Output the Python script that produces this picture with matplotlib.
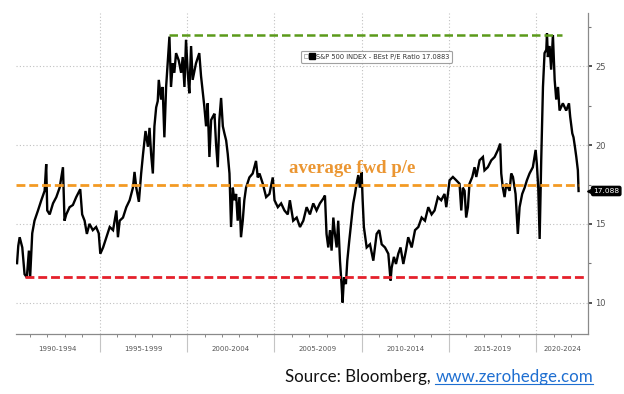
import matplotlib
matplotlib.use("Agg")
import matplotlib.pyplot as plt
import matplotlib.transforms as mtransforms
from matplotlib.lines import Line2D
from matplotlib.legend_handler import HandlerTuple

# S&P 500 blended forward P/E
years = [
    1990.26, 1990.33, 1990.41, 1990.56, 1990.69, 1990.82, 1990.94, 1991.01,
    1991.13, 1991.26, 1991.46, 1991.65, 1991.84, 1991.93, 1991.99, 1992.13,
    1992.32, 1992.51, 1992.70, 1992.89, 1992.98, 1993.08, 1993.27, 1993.46,
    1993.65, 1993.88, 1993.99, 1994.13, 1994.26, 1994.41, 1994.60, 1994.79,
    1994.94, 1995.03, 1995.19, 1995.38, 1995.57, 1995.76, 1995.95, 1996.04,
    1996.14, 1996.33, 1996.52, 1996.71, 1996.90, 1996.99, 1997.09, 1997.24,
    1997.37, 1997.48, 1997.62, 1997.76, 1997.85, 1997.94, 1998.04, 1998.13,
    1998.23, 1998.32, 1998.38, 1998.51, 1998.60, 1998.70, 1998.80, 1998.89,
    1998.99, 1999.08, 1999.18, 1999.27, 1999.37, 1999.52, 1999.66, 1999.75,
    1999.85, 1999.94, 2000.04, 2000.13, 2000.23, 2000.32, 2000.51, 2000.70,
    2000.80, 2000.89, 2000.99, 2001.09, 2001.18, 2001.28, 2001.38, 2001.47,
    2001.57, 2001.66, 2001.76, 2001.85, 2001.95, 2002.05, 2002.14, 2002.24,
    2002.33, 2002.43, 2002.52, 2002.62, 2002.71, 2002.81, 2002.90, 2003.00,
    2003.09, 2003.19, 2003.28, 2003.38, 2003.57, 2003.76, 2003.95, 2004.05,
    2004.15, 2004.34, 2004.53, 2004.72, 2004.91, 2005.01, 2005.20, 2005.39,
    2005.58, 2005.77, 2005.89, 2006.08, 2006.28, 2006.47, 2006.66, 2006.85,
    2007.04, 2007.23, 2007.42, 2007.61, 2007.80, 2007.90, 2007.99, 2008.09,
    2008.19, 2008.28, 2008.38, 2008.47, 2008.57, 2008.66, 2008.76, 2008.85,
    2008.91, 2008.99, 2009.10, 2009.18, 2009.29, 2009.43, 2009.52, 2009.62,
    2009.71, 2009.81, 2009.90, 2010.00, 2010.06, 2010.13, 2010.29, 2010.48,
    2010.67, 2010.86, 2011.01, 2011.15, 2011.34, 2011.53, 2011.66, 2011.72,
    2011.85, 2011.97, 2012.10, 2012.23, 2012.39, 2012.54, 2012.67, 2012.87,
    2013.06, 2013.25, 2013.44, 2013.63, 2013.82, 2014.01, 2014.18, 2014.37,
    2014.56, 2014.75, 2014.85, 2015.04, 2015.23, 2015.42, 2015.61, 2015.71,
    2015.80, 2015.90, 2015.99, 2016.09, 2016.18, 2016.34, 2016.47, 2016.57,
    2016.76, 2016.95, 2017.04, 2017.23, 2017.43, 2017.62, 2017.81, 2017.94,
    2018.00, 2018.09, 2018.19, 2018.29, 2018.48, 2018.57, 2018.67, 2018.82,
    2018.95, 2019.05, 2019.20, 2019.34, 2019.47, 2019.62, 2019.81, 2019.97,
    2020.04, 2020.12, 2020.20, 2020.29, 2020.39, 2020.48, 2020.58, 2020.62,
    2020.67, 2020.77, 2020.86, 2020.96, 2021.06, 2021.15, 2021.25, 2021.34,
    2021.53, 2021.72, 2021.88, 2021.95, 2022.07, 2022.14, 2022.22, 2022.30,
    2022.39, 2022.43,
]
pe = [
    12.5, 13.6, 14.15, 13.5, 11.8, 11.6, 13.3, 11.6,
    14.4, 15.2, 15.85, 16.5, 17.1, 18.8, 15.85, 15.6,
    16.3, 16.7, 17.3, 18.6, 15.2, 15.6, 16.06, 16.2,
    16.7, 17.2, 15.6, 15.2, 14.36, 15.0, 14.6, 14.8,
    14.4, 13.1, 13.5, 14.15, 14.8, 14.6, 15.85, 14.15,
    15.2, 15.4, 16.06, 16.5, 17.3, 18.3, 17.3, 16.4,
    18.2, 19.45, 20.9, 19.9, 21.1, 19.45, 18.2, 21.2,
    22.4, 22.8, 24.15, 22.9, 23.7, 20.5, 23.7, 25.2,
    26.9, 23.7, 25.2, 24.6, 25.85, 25.4, 24.6, 25.6,
    23.7, 26.7, 24.6, 23.3, 26.3, 24.15, 25.2, 25.85,
    24.4, 23.5, 22.45, 21.2, 22.66, 19.25, 21.6, 21.8,
    22.0, 20.1, 18.6, 21.6, 23.0, 21.2, 20.75, 20.3,
    19.45, 18.2, 14.8, 17.3, 16.5, 16.9, 15.2, 16.7,
    14.15, 15.2, 16.5, 17.3, 17.95, 18.2, 19.0, 17.95,
    18.2, 17.55, 16.7, 16.9, 17.95, 16.5, 16.06, 16.3,
    15.85, 15.6, 16.5, 15.2, 15.4, 14.8, 15.2, 16.06,
    15.6, 16.3, 15.85, 16.3, 16.6, 16.8, 14.36, 13.5,
    14.6, 13.3, 15.4, 14.36, 13.5, 15.2, 12.66, 11.17,
    10.0, 11.6, 11.17, 12.66, 13.9, 15.4, 16.3, 16.9,
    17.55, 18.1, 17.3, 18.3, 16.5, 14.8, 13.5, 13.7,
    12.66, 14.36, 14.6, 13.7, 13.5, 13.1, 11.4, 12.2,
    12.9, 12.45, 13.1, 13.5, 12.45, 13.3, 14.15, 13.5,
    14.6, 14.8, 15.4, 15.2, 16.06, 15.6, 15.85, 16.7,
    16.5, 16.9, 16.06, 17.77, 17.98, 17.77, 17.55, 15.85,
    17.3, 17.1, 15.4, 16.06, 17.55, 17.98, 18.6, 17.98,
    19.04, 19.25, 18.4, 18.6, 19.04, 19.25, 19.7, 20.1,
    18.2, 17.3, 16.7, 17.55, 17.1, 18.2, 17.98, 16.9,
    14.36, 16.06, 16.9, 17.3, 17.77, 18.2, 18.6, 19.7,
    18.8, 17.3, 14.04, 19.04, 23.7, 25.85, 26.06, 27.1,
    25.6, 26.3, 24.8, 27.0, 24.15, 22.9, 23.7, 22.2,
    22.66, 22.2, 22.66, 21.8, 20.75, 20.5, 19.9, 19.25,
    18.4, 17.0883,
]

period_labels = ["1990-1994", "1995-1999", "2000-2004", "2005-2009",
                 "2010-2014", "2015-2019", "2020-2024"]
period_starts = [1990, 1995, 2000, 2005, 2010, 2015, 2020]
yticks = [10, 15, 20, 25]

peak_pe = 27.0
peak_span = [1998.95, 2021.46]
avg_pe = 17.5
avg_span = [1990.2, 2022.43]
low_pe = 11.65
low_span = [1990.7, 2022.75]
last_pe = 17.0883

XMIN, XMAX = 1990.2, 2022.97

fig = plt.figure(figsize=(6.24, 3.94), dpi=100)
ax = fig.add_axes([16 / 624, 60 / 394, 572 / 624, 321 / 394])

ax.plot(years, pe, color="black", lw=1.7, zorder=3, solid_joinstyle="miter")

ax.plot(peak_span, [peak_pe, peak_pe], color="#5b9a1a", lw=1.8,
        dashes=(3.4, 1.6), zorder=4)
ax.plot(avg_span, [avg_pe, avg_pe], color="#f39a24", lw=2.0,
        dashes=(3.2, 1.4), zorder=4)
ax.plot(low_span, [low_pe, low_pe], color="#e5202b", lw=2.0,
        dashes=(3.2, 1.4), zorder=4)

ax.text(2005.85, 18.23, "average fwd p/e", color="#eb9632", fontsize=13.5,
        fontweight="bold", family="Liberation Serif", va="baseline", zorder=5)

ax.set_xlim(XMIN, XMAX)
ax.set_ylim(8.0, 28.4)

for side in ("top", "left"):
    ax.spines[side].set_visible(False)
for side in ("bottom", "right"):
    ax.spines[side].set_color("#8a8a8a")
    ax.spines[side].set_linewidth(0.9)

# right-hand value axis, Bloomberg style
ax.yaxis.tick_right()
ax.set_yticks(yticks)
ax.set_yticks([12.5, 17.5, 22.5, 27.5], minor=True)
ax.tick_params(axis="y", which="major", direction="out", length=3, width=1.2,
               color="#333333", labelsize=6, labelcolor="#555555", pad=2)
ax.tick_params(axis="y", which="minor", direction="out", length=2, width=0.8,
               color="#777777")

# 5-year separators below the axis, minor ticks every year
ax.set_xticks(period_starts[1:])
ax.set_xticks(list(range(1991, 2023)), minor=True)
ax.tick_params(axis="x", which="major", direction="out", length=13, width=0.8,
               color="#c4c4c4", labelbottom=False)
ax.tick_params(axis="x", which="minor", direction="out", length=2, width=0.7,
               color="#888888")

ax.grid(True, which="major", linestyle=(0, (1, 2)), color="#c0c0c0", lw=0.8)
ax.set_axisbelow(True)

trans = mtransforms.blended_transform_factory(ax.transData, ax.transAxes)
for lab, start in zip(period_labels, period_starts):
    mid = (max(start, XMIN) + min(start + 5, XMAX)) / 2
    ax.text(mid, -0.047, lab, transform=trans, ha="center", va="center",
            fontsize=5, color="#555555")

# legend box
gray_sq = Line2D([], [], marker="s", markersize=2.5, markerfacecolor="white",
                 markeredgecolor="#999999", markeredgewidth=0.5, linestyle="none")
black_sq = Line2D([], [], marker="s", markersize=4, color="black", linestyle="none")
leg = ax.legend(handles=[(gray_sq, black_sq)],
                labels=["S&P 500 INDEX - BEst P/E Ratio 17.0883"],
                handler_map={tuple: HandlerTuple(ndivide=None, pad=0.4)},
                loc="upper left", bbox_to_anchor=(0.498, 0.8826), fontsize=4.8,
                frameon=True, fancybox=True, edgecolor="#888888",
                handlelength=1.5, handletextpad=0.3, borderpad=0.45,
                borderaxespad=0)
leg.get_frame().set_linewidth(0.8)
for t in leg.get_texts():
    t.set_color("#333333")

# last value tag on the right axis
ytrans = mtransforms.blended_transform_factory(ax.transAxes, ax.transData)
ax.plot([1.003], [last_pe], marker="<", color="black", markersize=4,
        transform=ytrans, clip_on=False, zorder=6)
ax.text(1.009, last_pe, f"{last_pe:.3f}", transform=ytrans, ha="left",
        va="center", color="white", fontsize=5.3, zorder=7,
        bbox=dict(boxstyle="round,pad=0.22", fc="black", ec="black"))

# source line
src_y = 12 / 394
link = fig.text(593 / 624, src_y, "www.zerohedge.com", color="#1f6fd1",
                fontsize=12.2, family="Lato", ha="right", va="baseline")
fig.canvas.draw()
renderer = fig.canvas.get_renderer()
bb = link.get_window_extent(renderer=renderer)
fig.text(bb.x0 / fig.bbox.width, src_y, "Source: Bloomberg, ", color="#111111",
         fontsize=12.2, family="Lato", ha="right", va="baseline")
uy = (src_y * fig.bbox.height - 2) / fig.bbox.height
fig.add_artist(Line2D([bb.x0 / fig.bbox.width, bb.x1 / fig.bbox.width], [uy, uy],
                      color="#1f6fd1", lw=0.8))

fig.savefig("out.png", dpi=100)
